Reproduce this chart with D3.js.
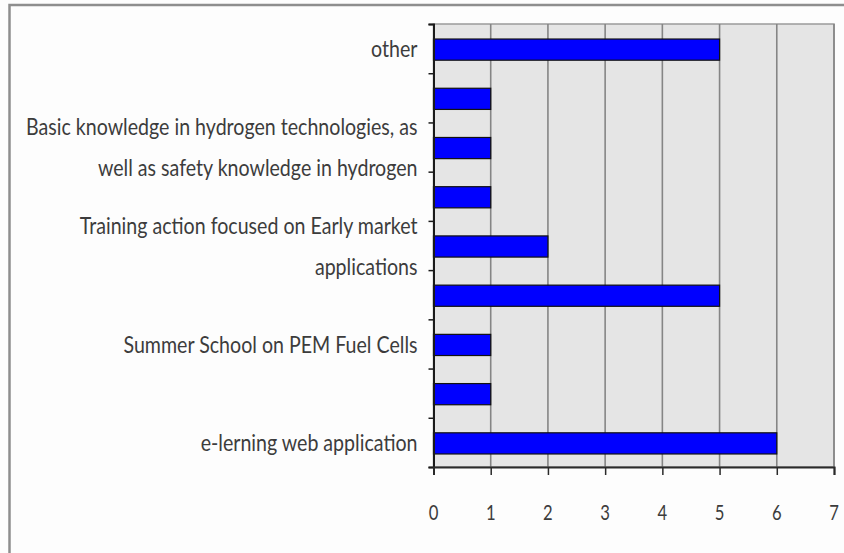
<!DOCTYPE html>
<html>
<head>
<meta charset="utf-8">
<script src="https://cdn.jsdelivr.net/npm/d3@7"></script>
<style>
  html, body { margin: 0; padding: 0; background: #fdfdfd; }
  svg { display: block; }
  .cat-label, .tick-label { font-family: Lato, "Liberation Sans", sans-serif; fill: #3c3c3c; }
</style>
</head>
<body>
<svg id="chart" width="844" height="553"></svg>
<script>
// Horizontal bar chart, Excel-2007 look. Only every other category carries a
// visible label (Excel skipped the rest), so the unlabelled ones stay blank.

const categories = [
  ["other"],
  [],
  ["Basic knowledge in hydrogen technologies, as", "well as safety knowledge in hydrogen"],
  [],
  ["Training action focused on Early market", "applications"],
  [],
  ["Summer School on PEM Fuel Cells"],
  [],
  ["e-lerning web application"],
];
const values = [5, 1, 1, 1, 2, 5, 1, 1, 6];
const xTicks = [0, 1, 2, 3, 4, 5, 6, 7];

const W = 844;
const H = 553;
const plot = { left: 433.5, right: 834, top: 24, bottom: 467 };
const TEXT_SX = 0.98;
const TEXT_SY = 1.2; // labels in the source are stretched vertically

const svg = d3.select("#chart");

// outer frame (only top and left edges are visible in the crop)
svg.append("path")
  .attr("d", `M9.5,${H} V5 H${W}`)
  .attr("fill", "none")
  .attr("stroke", "#8e8e8e")
  .attr("stroke-width", 2.5);

const x = d3.scaleLinear().domain([0, 7]).range([plot.left, plot.right]);
const idx = d3.range(categories.length);
const y = d3.scaleBand()
  .domain(idx)
  .range([plot.top, plot.bottom])
  .paddingInner(0.57)
  .paddingOuter(0.285);
const yEdge = d3.scaleLinear()
  .domain([0, categories.length])
  .range([plot.top, plot.bottom]);

// plot background
svg.append("rect")
  .attr("x", plot.left)
  .attr("y", plot.top)
  .attr("width", plot.right - plot.left)
  .attr("height", plot.bottom - plot.top)
  .attr("fill", "#e5e5e5")
  .attr("stroke", "#9a9a9a")
  .attr("stroke-width", 1.5);

// vertical gridlines
svg.append("g")
  .selectAll("line")
  .data(xTicks.slice(1))
  .join("line")
  .attr("x1", (d) => x(d))
  .attr("x2", (d) => x(d))
  .attr("y1", plot.top)
  .attr("y2", plot.bottom)
  .attr("stroke", "#858585")
  .attr("stroke-width", 1.6);

// bars
svg.append("g")
  .selectAll("rect")
  .data(values)
  .join("rect")
  .attr("x", x(0))
  .attr("y", (d, i) => y(i) + 1)
  .attr("width", (d) => x(d) - x(0))
  .attr("height", y.bandwidth())
  .attr("fill", "#0000ff")
  .attr("stroke", "#111")
  .attr("stroke-width", 1.2);

// y axis: ticks on band edges
const yAxis = svg.append("g")
  .attr("transform", `translate(${plot.left},0)`)
  .call(d3.axisLeft(yEdge).ticks(categories.length).tickSize(5).tickFormat(""));
yAxis.select(".domain").attr("stroke", "#1a1a1a").attr("stroke-width", 2);
yAxis.selectAll(".tick line").attr("stroke", "#1a1a1a").attr("stroke-width", 1.5);

// x axis
const xAxis = svg.append("g")
  .attr("transform", `translate(0,${plot.bottom})`)
  .call(d3.axisBottom(x).tickValues(xTicks).tickSize(8).tickSizeOuter(8).tickFormat(""));
xAxis.select(".domain").attr("stroke", "#2a2a2a").attr("stroke-width", 2);
xAxis.selectAll(".tick line").attr("stroke", "#2a2a2a").attr("stroke-width", 1.5);

// x tick labels
svg.append("g")
  .selectAll("text")
  .data(xTicks)
  .join("text")
  .attr("class", "tick-label")
  .attr("transform", (d) => `translate(${x(d)},${plot.bottom + 53}) scale(${TEXT_SX},${TEXT_SY})`)
  .attr("text-anchor", "middle")
  .attr("font-size", 17)
  .text((d) => d);

// category labels
const LINE_GAP = 41;
const labelG = svg.append("g")
  .selectAll("g")
  .data(categories)
  .join("g")
  .attr("transform", (d, i) => `translate(${plot.left - 16},${y(i) + y.bandwidth() / 2})`);

labelG.selectAll("text")
  .data((d) => d.map((t, j) => ({ t, j, n: d.length })))
  .join("text")
  .attr("class", "cat-label")
  .attr("transform", (d) => `translate(0,${(d.j - (d.n - 1) / 2) * LINE_GAP}) scale(${TEXT_SX},${TEXT_SY})`)
  .attr("text-anchor", "end")
  .attr("dy", "0.36em")
  .attr("font-size", 20)
  .text((d) => d.t);
</script>
</body>
</html>
